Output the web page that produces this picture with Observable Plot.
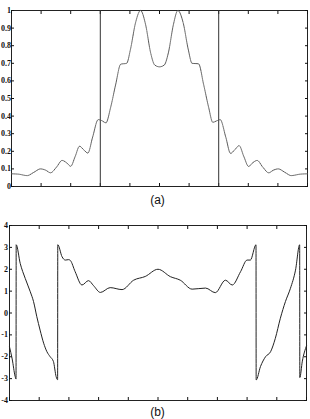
<!DOCTYPE html>
<html><head><meta charset="utf-8">
<script src="https://cdn.jsdelivr.net/npm/d3@7"></script>
<script src="https://cdn.jsdelivr.net/npm/@observablehq/plot@0.6"></script>
<style>
body{margin:0;background:#fff;width:310px;height:419px;position:relative;overflow:hidden}
#a,#b{position:absolute;left:0}
#a{top:0}
#b{top:215px}
.cap{position:absolute;left:2.5px;width:310px;text-align:center;font-family:"Liberation Sans",Arial,sans-serif;font-size:12px;color:#111;line-height:12px}
</style></head><body>
<div id="a"></div><div class="cap" style="top:194px">(a)</div>
<div id="b"></div><div class="cap" style="top:406px">(b)</div>
<script>
// Panel (a): magnitude
const topX = [0.00,0.24,0.53,0.75,0.98,1.15,1.32,1.52,1.71,1.86,2.00,2.15,2.30,2.43,2.58,2.74,2.93,3.04,3.19,3.35,3.52,3.69,3.89,4.02,4.19,4.36,4.53,4.70,4.84,5.00,
  5.16,5.30,5.47,5.62,5.80,5.97,6.10,6.32,6.49,6.66,6.80,6.96,7.05,7.24,7.40,7.55,7.69,7.85,8.01,8.15,8.30,8.49,8.69,8.85,9.01,9.24,9.45,9.75,10.00];
const topY = [0.072,0.070,0.062,0.080,0.100,0.093,0.078,0.110,0.148,0.135,0.115,0.170,0.229,0.210,0.190,0.280,0.380,0.375,0.362,0.450,0.580,0.695,0.700,0.780,0.930,1.000,0.920,0.760,0.690,0.680,
  0.690,0.760,0.920,1.000,0.930,0.780,0.700,0.697,0.580,0.450,0.365,0.375,0.380,0.280,0.188,0.210,0.232,0.170,0.114,0.135,0.148,0.110,0.078,0.093,0.100,0.080,0.062,0.070,0.072];
const markerX = [3, 7];
const yTicksA = [0,0.1,0.2,0.3,0.4,0.5,0.6,0.7,0.8,0.9,1];

// Panel (b): phase
const botX = [0.00,0.09,0.19,0.22,0.225,0.36,0.53,0.70,0.81,0.92,1.03,1.15,1.26,1.37,1.48,1.57,1.62,1.625,1.77,1.88,1.99,2.05,2.21,2.44,2.66,2.83,3.06,3.39,3.79,4.18,4.57,5.00,
  5.42,5.75,6.15,6.60,6.93,7.27,7.50,7.78,8.00,8.11,8.30,8.305,8.45,8.62,8.79,8.95,9.12,9.29,9.46,9.63,9.77,9.775,9.86,10.00];
const botY = [-1.55,-2.10,-2.90,-3.02,3.12,2.27,1.58,0.97,0.52,-0.17,-0.78,-1.38,-1.77,-2.00,-2.22,-2.91,-3.05,3.12,2.57,2.42,2.44,2.40,1.89,1.28,1.48,1.25,0.94,1.16,1.07,1.50,1.67,2.00,
  1.66,1.50,1.09,1.14,0.93,1.50,1.28,1.89,2.42,2.42,3.12,-3.06,-2.45,-2.00,-1.77,-1.16,-0.24,0.52,1.13,1.96,3.12,-2.95,-2.20,-1.50];
const yTicksB = [-4,-3,-2,-1,0,1,2,3,4];
const xTicks = [0,1,2,3,4,5,6,7,8,9,10];

const style = {fontFamily:"'Liberation Serif',serif", fontSize:"8px", fontWeight:"bold", color:"#111", background:"#fff", overflow:"visible"};

function frameMarks(yTicks, pad) {
  return [
    Plot.frame({stroke:"#222"}),
    Plot.axisY(yTicks, {anchor:"left", tickSize:0, tickPadding:pad, tickFormat:d=>String(d), label:null}),
    Plot.axisY(yTicks, {anchor:"left", tickSize:3, dx:3, text:null, label:null}),
    Plot.axisY(yTicks, {anchor:"right", tickSize:3, dx:-3, text:null, label:null}),
    Plot.axisX(xTicks, {anchor:"bottom", tickSize:3, dy:-3, text:null, label:null}),
    Plot.axisX(xTicks, {anchor:"top", tickSize:3, dy:3, text:null, label:null})
  ];
}

const idxA = topX.map((_, i) => i);
const plotA = Plot.plot({
  width:310, height:190, marginTop:10, marginBottom:4, marginLeft:11, marginRight:3,
  x:{domain:[0,10], axis:null}, y:{domain:[0,1], axis:null},
  style,
  marks:[
    ...frameMarks(yTicksA, 0.5),
    Plot.ruleX(markerX, {stroke:"#333", strokeWidth:1}),
    Plot.line(idxA, {x:i=>topX[i], y:i=>topY[i], curve:"monotone-x", stroke:"#555", strokeWidth:1, strokeDasharray:"1.2,0.9"})
  ]
});
document.getElementById("a").appendChild(plotA);

const idxB = botX.map((_, i) => i);
const plotB = Plot.plot({
  width:310, height:190, marginTop:10, marginBottom:5, marginLeft:9, marginRight:4,
  x:{domain:[0,10], axis:null}, y:{domain:[-4,4], axis:null},
  style,
  marks:[
    ...frameMarks(yTicksB, 1.5),
    Plot.line(idxB, {x:i=>botX[i], y:i=>botY[i], curve:"monotone-x", stroke:"#222", strokeWidth:1})
  ]
});
document.getElementById("b").appendChild(plotB);
</script>
</body></html>
